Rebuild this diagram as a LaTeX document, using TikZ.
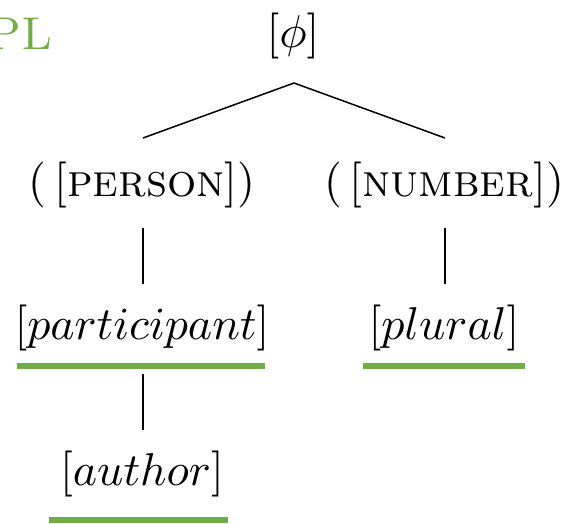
\documentclass[tikz,border=0pt]{standalone}
\usetikzlibrary{calc}
\definecolor{lingreen}{RGB}{112,173,71}
\tikzset{
  lbl/.style={inner sep=0pt, outer sep=0pt, scale=4.6, transform shape, font=\fontsize{10}{12}\selectfont},
  branch/.style={draw=black, line width=1.5pt},
  uline/.style={draw=lingreen, line width=6pt},
}
\begin{document}
\begin{tikzpicture}[x=1pt,y=-1pt]
\useasboundingbox (0,0) rectangle (570,523);
\clip (0,0) rectangle (570,523);
\node[lbl, text=lingreen, anchor=east] (pl) at (53,34) {\textsc{PL}};
\node[lbl] (phi) at (293,36) {$[\phi]$};
\node[lbl] (person) at (142,185) {(\,[\textsc{person}])};
\node[lbl] (number) at (444,185) {(\,[\textsc{number}])};
\node[lbl] (part) at (142,328) {$[participant]$};
\node[lbl] (plural) at (444,328) {$[plural]$};
\node[lbl] (author) at (142,474) {$[author]$};
\draw[branch] ($(phi.center)+(1,47)$) -- ($(person.center)+(1,-47)$);
\draw[branch] ($(phi.center)+(1,47)$) -- ($(number.center)+(1,-47)$);
\draw[branch] ($(person.center)+(1,43)$) -- ($(part.center)+(1,-44)$);
\draw[branch] ($(number.center)+(1,43)$) -- ($(plural.center)+(1,-44)$);
\draw[branch] ($(part.center)+(1,46)$) -- ($(author.center)+(1,-44)$);
\draw[uline] ($(part.center)+(-125,38)$) -- ($(part.center)+(123,38)$);
\draw[uline] ($(plural.center)+(-81,38)$) -- ($(plural.center)+(81,38)$);
\draw[uline] ($(author.center)+(-93,46)$) -- ($(author.center)+(86,46)$);
\end{tikzpicture}
\end{document}
